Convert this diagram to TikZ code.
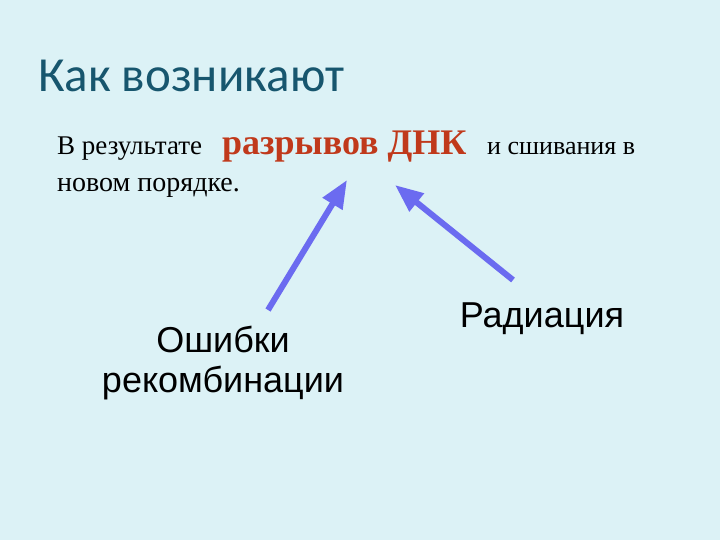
\documentclass[tikz,border=0pt]{standalone}
\usepackage{fontspec}
\setmainfont{Liberation Serif}
\newfontfamily\titlefont{Carlito}
\newfontfamily\armfont{Liberation Sans}
\usetikzlibrary{arrows.meta}

\definecolor{slidebg}{HTML}{DCF2F6}
\definecolor{titleblue}{HTML}{17566E}
\definecolor{dnkred}{HTML}{C0391B}
\definecolor{arrowblue}{HTML}{6B6BF0}

\tikzset{
  txt/.style={anchor=base west, inner sep=0pt},
  label/.style={anchor=base, inner sep=0pt, font=\armfont\fontsize{36}{40}\selectfont},
  cause/.style={draw=arrowblue, line width=6pt, -{Triangle[length=28pt,width=22pt]}}
}

\begin{document}
\begin{tikzpicture}[x=1pt, y=-1pt]
    \fill[slidebg] (0,0) rectangle (720,540);
    \useasboundingbox (0,0) rectangle (720,540);

    \node[txt, font=\titlefont\fontsize{49}{54}\selectfont, text=titleblue] (title) at (38,92) {Как возникают};

    \node[txt, font=\fontsize{27}{30}\selectfont] (lineA) at (57,155) {В результате};
    \node[txt, font=\bfseries\fontsize{36}{40}\selectfont, text=dnkred] (dnk) at (222,155) {разрывов ДНК};
    \node[txt, font=\fontsize{26}{30}\selectfont] (lineB) at (487,155) {и сшивания в};
    \node[txt, font=\fontsize{28}{30}\selectfont] (lineC) at (57,192) {новом порядке.};

    \node[label] (err1) at (223,352) {Ошибки};
    \node[label] (err2) at (223,392) {рекомбинации};
    \node[label] (rad) at (542,327) {Радиация};

    \coordinate (errtail) at (268,310);
    \coordinate (errhead) at (347,180);
    \coordinate (radtail) at (513,280);
    \coordinate (radhead) at (395,185);

    \draw[cause] (errtail) -- (errhead);
    \draw[cause] (radtail) -- (radhead);
\end{tikzpicture}
\end{document}
